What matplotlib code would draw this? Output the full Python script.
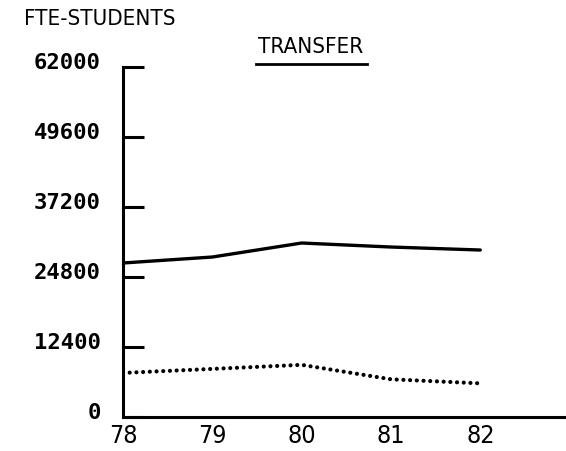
import matplotlib
matplotlib.use("Agg")
import matplotlib.pyplot as plt
import matplotlib.transforms as mtransforms
from matplotlib.lines import Line2D

# values
years = [78, 79, 80, 81, 82]
solid_fte = [27280, 28340, 30820, 30110, 29580]
dotted_fte = [7810, 8520, 9240, 6680, 5960]
y_ticks = [0, 12400, 24800, 37200, 49600, 62000]
x_labels = ["78", "79", "80", "81", "82"]

fig = plt.figure(figsize=(5.66, 4.51), dpi=100)
ax = fig.add_axes([123 / 566, 34 / 451, 443 / 566, 350 / 451])

ax.plot(years, solid_fte, color="black", lw=2.4, solid_capstyle="round")
ax.plot(years, dotted_fte, color="black", lw=3.0,
        linestyle=(0, (0.01, 1.6)), dash_capstyle="round")

ax.set_xlim(78, 82.96)
ax.set_ylim(0, 62000)

for s in ["top", "right"]:
    ax.spines[s].set_visible(False)
for s in ["left", "bottom"]:
    ax.spines[s].set_linewidth(2.2)

ax.set_yticks(y_ticks)
ax.set_yticklabels([str(v) for v in y_ticks], family="DejaVu Sans Mono",
                   fontweight="bold", fontsize=16)
ax.tick_params(axis="y", direction="in", length=15, width=2.2, pad=16)
# labels sit a little above their ticks on the original
shift = mtransforms.ScaledTranslation(0, 6 / 100, fig.dpi_scale_trans)
for lab in ax.get_yticklabels():
    lab.set_transform(lab.get_transform() + shift)

ax.set_xticks(years)
ax.set_xticklabels(x_labels, family="DejaVu Sans", fontsize=18,
                   fontstretch="condensed")
ax.tick_params(axis="x", length=0, pad=5)

fig.text(100 / 566, 1 - 19 / 451, "FTE-STUDENTS", ha="center", va="center",
         fontsize=16, family="DejaVu Sans", fontstretch="condensed")
fig.text(311 / 566, 1 - 47 / 451, "TRANSFER", ha="center", va="center",
         fontsize=16, family="DejaVu Sans", fontstretch="condensed")
fig.add_artist(Line2D([256 / 566, 367 / 566], [1 - 64 / 451, 1 - 64 / 451],
                      color="black", lw=2.0))

fig.savefig("out.png", dpi=100)
